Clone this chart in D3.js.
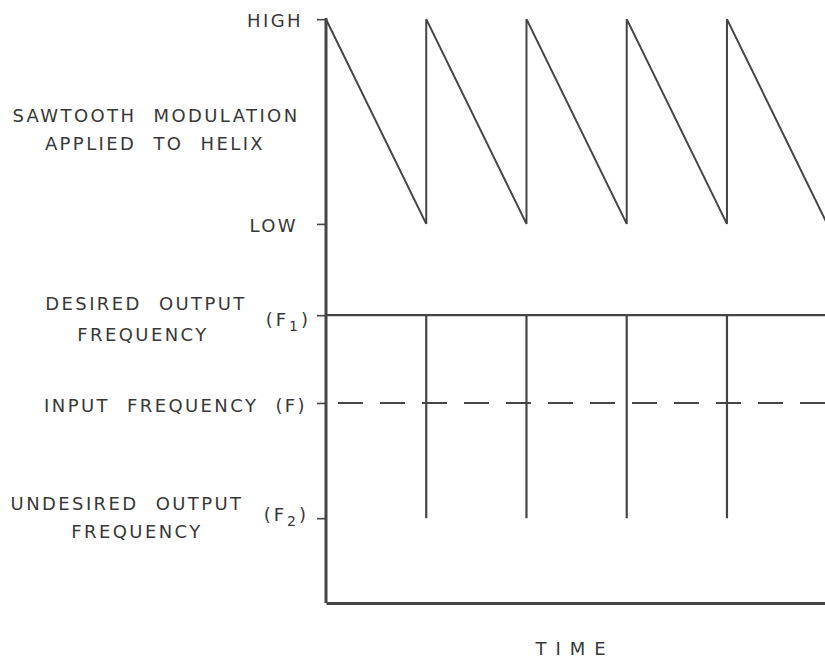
<!DOCTYPE html>
<html>
<head>
<meta charset="utf-8">
<script src="https://cdn.jsdelivr.net/npm/d3@7"></script>
<style>
  html, body { margin: 0; padding: 0; background: #fff; }
  svg { display: block; }
  text { font-family: 'DejaVu Sans', sans-serif; fill: #383838; }
</style>
</head>
<body>
<div id="chart"></div>
<script>
// levels on the vertical axis (arbitrary units, 0 = time axis)
const levelNames = ['HIGH', 'LOW', 'F1', 'F', 'F2'];
const levelValues = [99.8, 64.8, 49.2, 34.2, 14.5];
const level = Object.fromEntries(levelNames.map((n, i) => [n, levelValues[i]]));

// sawtooth applied to helix (time in sweep periods)
const sawTime  = [0, 1, 1, 2, 2, 3, 3, 4, 4, 5];
const sawLevel = ['HIGH', 'LOW', 'HIGH', 'LOW', 'HIGH', 'LOW', 'HIGH', 'LOW', 'HIGH', 'LOW'];

// output frequency: stays at F1, flips to F2 at each flyback
const outTime  = [0, 1, 1, 1, 2, 2, 2, 3, 3, 3, 4, 4, 4, 5, 5];
const outLevel = ['F1', 'F1', 'F2', 'F1', 'F1', 'F2', 'F1', 'F1', 'F2', 'F1', 'F1', 'F2', 'F1', 'F1', 'F2'];

// input frequency (dashed)
const inTime  = [0, 5];
const inLevel = ['F', 'F'];

const W = 825, H = 659;
const margin = { left: 326, top: 18, right: 0, bottom: 56 };
const ink = '#454545';

const x = d3.scaleLinear().domain([0, 4.978]).range([margin.left, W - margin.right]);
const y = d3.scaleLinear().domain([0, 100]).range([H - margin.bottom, margin.top]);

const svg = d3.select('#chart').append('svg')
  .attr('width', W).attr('height', H)
  .attr('viewBox', `0 0 ${W} ${H}`);

svg.append('defs').append('clipPath').attr('id', 'plot')
  .append('rect')
  .attr('x', margin.left).attr('y', 0)
  .attr('width', W - margin.left).attr('height', H);

const line = d3.line().x((d) => x(d[0])).y((d) => y(level[d[1]]));

const plot = svg.append('g').attr('clip-path', 'url(#plot)');

plot.append('path')
  .datum(sawTime.map((t, i) => [t, sawLevel[i]]))
  .attr('d', line)
  .attr('fill', 'none')
  .attr('stroke', ink)
  .attr('stroke-width', 2);

plot.append('path')
  .datum(outTime.map((t, i) => [t, outLevel[i]]))
  .attr('d', line)
  .attr('fill', 'none')
  .attr('stroke', ink)
  .attr('stroke-width', 2.2);

plot.append('path')
  .datum(inTime.map((t, i) => [t, inLevel[i]]))
  .attr('d', line)
  .attr('fill', 'none')
  .attr('stroke', ink)
  .attr('stroke-width', 2)
  .attr('stroke-dasharray', '25 17')
  .attr('stroke-dashoffset', -12);

// axes
const yAxis = svg.append('g')
  .attr('transform', `translate(${margin.left},0)`)
  .call(d3.axisLeft(y).tickValues(levelValues).tickSize(9).tickFormat(''));
yAxis.select('.domain').remove();
yAxis.selectAll('line').attr('stroke', ink).attr('stroke-width', 1.6);

svg.append('line')
  .attr('x1', margin.left).attr('x2', margin.left)
  .attr('y1', y(100)).attr('y2', y(0))
  .attr('stroke', ink).attr('stroke-width', 3);

const xAxis = svg.append('g')
  .attr('transform', `translate(0,${y(0)})`)
  .call(d3.axisBottom(x).tickValues([]).tickSizeOuter(0));
xAxis.select('.domain').attr('stroke', ink).attr('stroke-width', 3);

// labels
const lab = svg.append('g')
  .attr('font-size', 18)
  .attr('letter-spacing', 2.4);

function put(txt, px, py, anchor) {
  return lab.append('text')
    .attr('x', px).attr('y', py)
    .attr('text-anchor', anchor || 'middle')
    .attr('word-spacing', 9)
    .text(txt);
}

function sub(base, s, px, py) {
  const t = lab.append('text')
    .attr('x', px).attr('y', py)
    .attr('text-anchor', 'end')
    .attr('letter-spacing', 3);
  t.append('tspan').text('(' + base);
  t.append('tspan').attr('font-size', 14).attr('dy', 5).text(s);
  t.append('tspan').attr('dy', -5).text(')');
}

put('HIGH', 303, y(level.HIGH) + 8, 'end');
put('LOW', 298, y(level.LOW) + 8, 'end');
put('SAWTOOTH MODULATION', 156, 122);
put('APPLIED TO HELIX', 155, 150);
put('DESIRED OUTPUT', 146, 310);
put('FREQUENCY', 143, 341);
sub('F', '1', 311, 326);
put('INPUT FREQUENCY  (F)', 307, 412, 'end');
put('UNDESIRED OUTPUT', 127, 510);
put('FREQUENCY', 137, 538);
sub('F', '2', 309, 521);

svg.append('text')
  .attr('x', 575).attr('y', 655)
  .attr('text-anchor', 'middle')
  .attr('font-size', 18)
  .attr('letter-spacing', 9)
  .text('TIME');
</script>
</body>
</html>
